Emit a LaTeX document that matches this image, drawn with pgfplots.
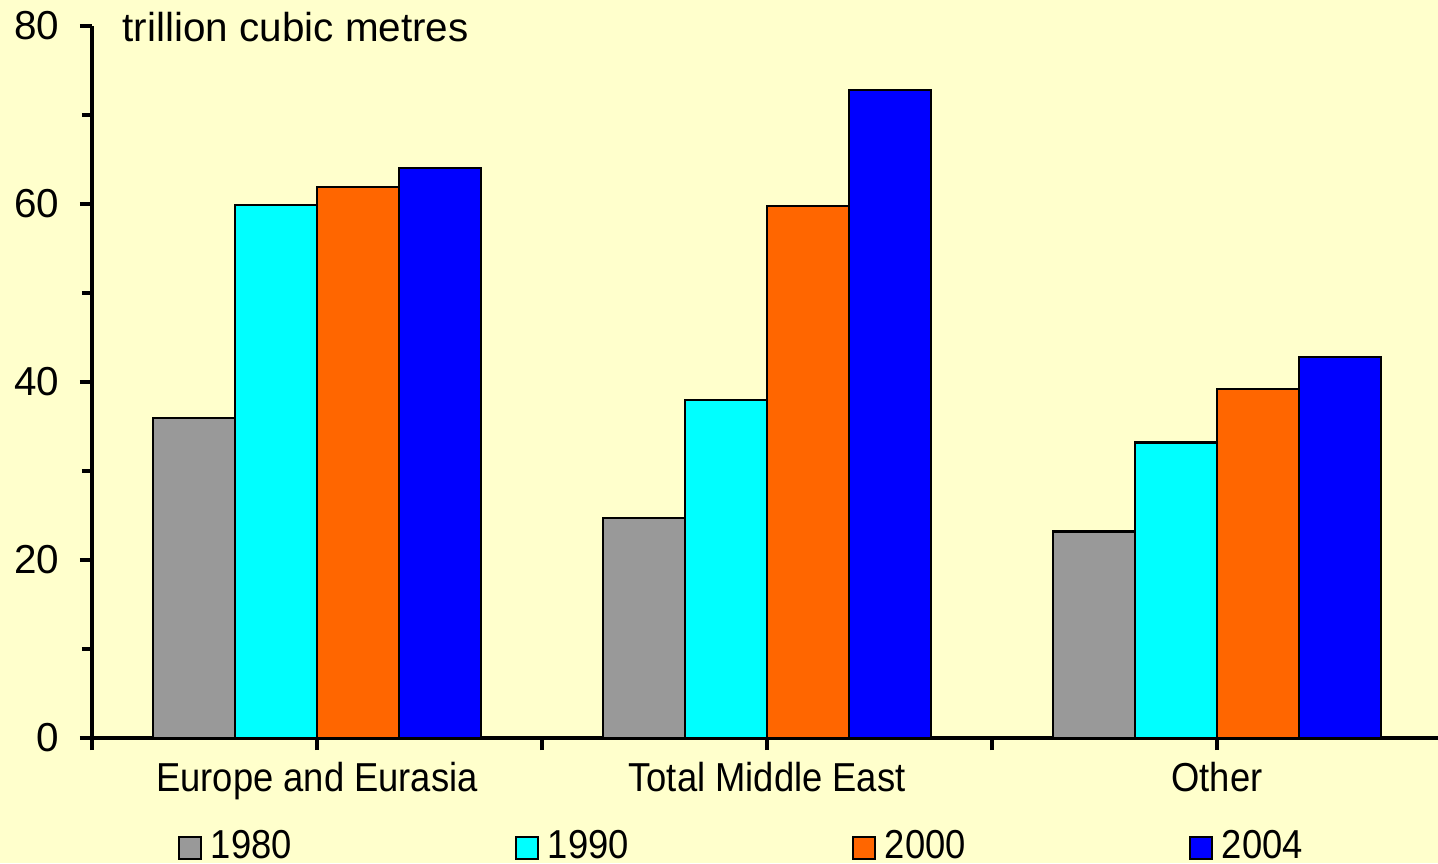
\documentclass[border=0pt]{standalone}
\usepackage{fontspec}
\setmainfont{Liberation Sans}
\newfontfamily\narrowsans[FakeStretch=0.9]{Liberation Sans}
\usepackage{pgfplots}
\pgfplotsset{compat=1.18}

\definecolor{bgyellow}{HTML}{FFFFCC}
\definecolor{c1980}{HTML}{999999}
\definecolor{c1990}{HTML}{00FFFF}
\definecolor{c2000}{HTML}{FF6600}
\definecolor{c2004}{HTML}{0000FF}

\begin{document}
\begin{tikzpicture}[font=\fontsize{11.5}{14}\selectfont]
    % page = 1438 x 863 px, 1px = 0.1mm
    \fill[bgyellow] (0,0) rectangle (14.38cm,8.63cm);
    \useasboundingbox (0,0) rectangle (14.38cm,8.63cm);
    \begin{axis}[
        name=reserves,
        scale only axis,
        at={(0.92cm,1.25cm)},anchor=south west,
        width=13.5cm,height=7.12cm,
        ybar=0pt,bar width=0.82cm,
        xmin=-0.5,xmax=2.5,
        ymin=0,ymax=80,
        axis x line*=bottom,axis y line*=left,
        axis line style={line width=0.9pt},
        xtick={0,1,2},
        xticklabels={Europe and Eurasia, Total Middle East, Other},
        extra x ticks={-0.5,0.5,1.5,2.5},
        extra x tick labels={},
        ytick={0,20,...,80},
        minor ytick={10,30,50,70},
        tick align=outside,
        major tick length=1.2mm,minor tick length=1.0mm,
        tick style={line width=0.9pt,black},
        /pgf/number format/assume math mode=true,
        yticklabel style={anchor=east,inner sep=0pt,xshift=-0.2cm},
        xticklabel style={anchor=base,inner sep=0pt,yshift=-0.41cm,
            font=\narrowsans\fontsize{11.5}{14}\selectfont},
        legend columns=4,
        legend style={
            at={(0.0,-0.129)},anchor=north west,
            xshift=0.85cm,
            draw=none,fill=none,
            inner sep=0pt,
            font=\narrowsans\fontsize{11.5}{14}\selectfont,
            /tikz/every even column/.append style={column sep=2.23cm},
            /tikz/every odd column/.append style={column sep=0.09cm},
            nodes={inner sep=0pt,anchor=base west},
        },
        legend image code/.code={
            \draw[#1,draw=black,line width=0.6pt] (0cm,0cm) rectangle (0.22cm,0.22cm);
        },
        clip=false,
    ]
        \addplot[fill=c1980,draw=black,line width=0.6pt] coordinates {(0,36.0) (1,24.7) (2,23.2)};
        \addplot[fill=c1990,draw=black,line width=0.6pt] coordinates {(0,59.9) (1,38.0) (2,33.2)};
        \addplot[fill=c2000,draw=black,line width=0.6pt] coordinates {(0,61.9) (1,59.8) (2,39.2)};
        \addplot[fill=c2004,draw=black,line width=0.6pt] coordinates {(0,64.0) (1,72.8) (2,42.8)};
        \legend{1980,1990,2000,2004}
    \end{axis}
    \node[anchor=base west,inner sep=0pt] at (1.22cm,8.21cm) {trillion cubic metres};
\end{tikzpicture}
\end{document}
